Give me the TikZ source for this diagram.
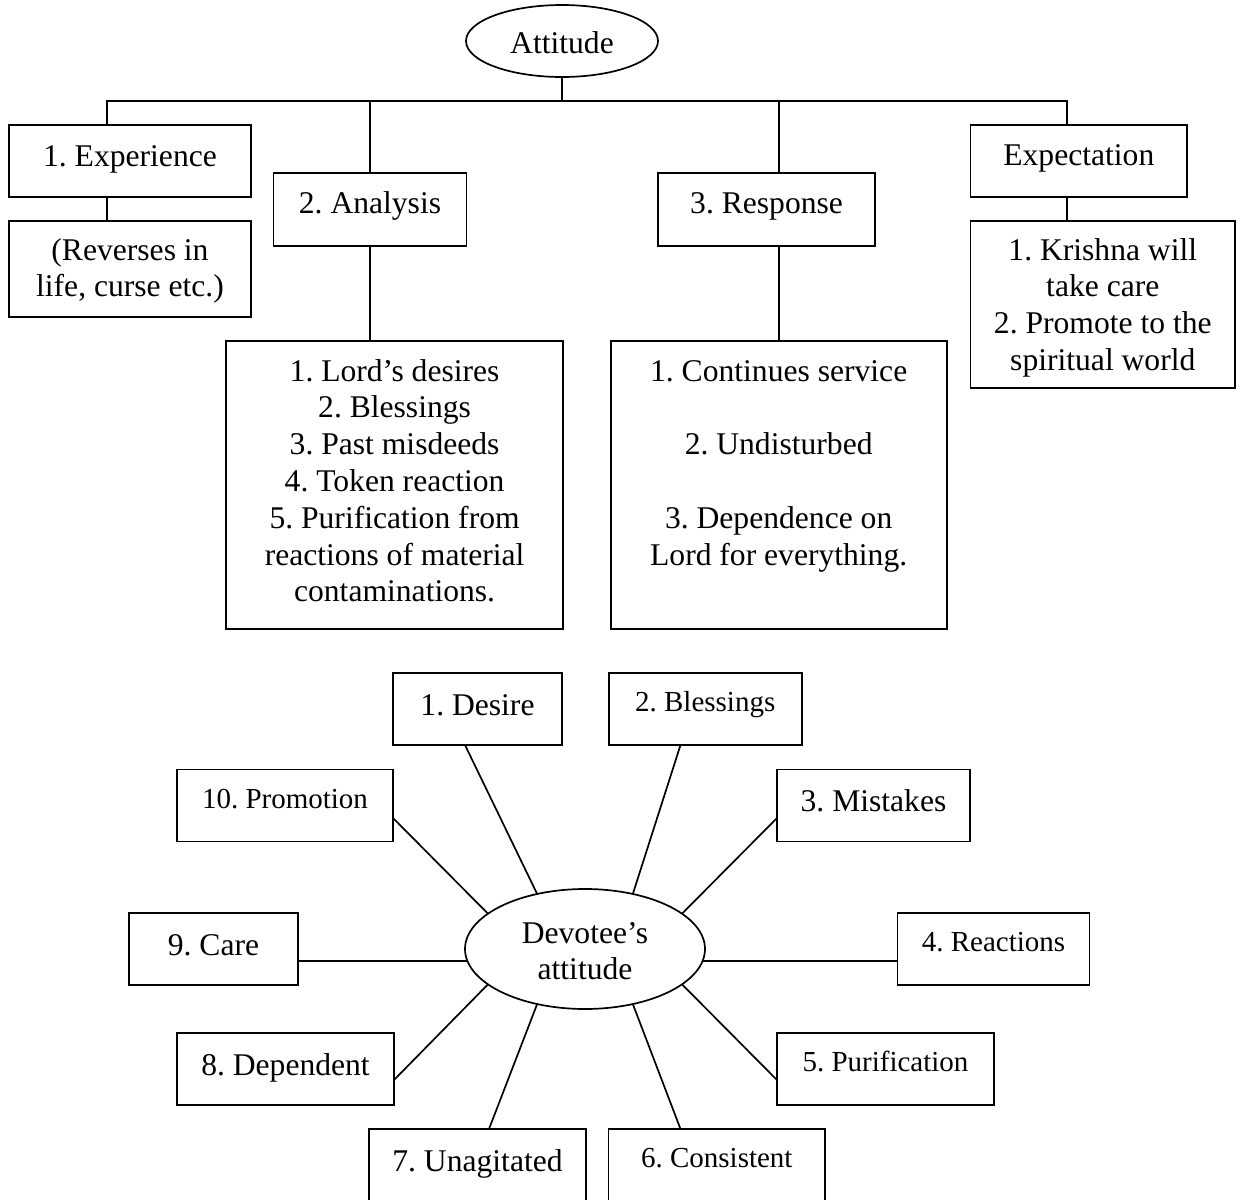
\documentclass[tikz,border=0pt]{standalone}
\usepackage{fontspec}
\setmainfont{Liberation Serif}
\usetikzlibrary{shapes.geometric,calc}
\setlength{\tabcolsep}{0pt}
\frenchspacing
\newcommand{\txtbig}{\fontsize{15.8pt}{18.4pt}\selectfont}
\newcommand{\txtsmall}{\fontsize{14.5pt}{17pt}\selectfont}
\newcommand{\lines}[1]{\begin{tabular}[t]{c}#1\end{tabular}}

\begin{document}
\begin{tikzpicture}[x=0.5pt,y=-0.5pt,
  box/.style={draw, line width=0.85pt, inner sep=0pt, outer sep=0pt, font=\txtbig,
              text height=21pt, text depth=15pt, minimum height=36pt},
  smallbox/.style={box, font=\txtsmall, text height=19.3pt, text depth=16.7pt},
  oval/.style={ellipse, draw, line width=0.85pt, inner sep=0pt, outer sep=0pt, font=\txtbig},
  link/.style={line width=0.85pt}]
\useasboundingbox (0,0) rectangle (1244,1200);

% ---------- upper tree ----------
\node[oval, minimum width=96pt, minimum height=36pt, text height=16pt, text depth=3.7pt]
  (att) at (562,41) {Attitude};

\node[box, minimum width=121pt, text height=20.85pt, text depth=15.15pt]
  (exp) at (130,161) {1. Experience};
\node[box, minimum width=121pt, minimum height=48pt, text height=19.5pt, text depth=28.5pt]
  (rev) at (130,269) {\lines{(Reverses in\\life, curse etc.)}};

\node[box, minimum width=96.5pt, minimum height=36.35pt, text height=20.15pt, text depth=16.2pt]
  (ana) at (370,209.35) {2. Analysis};
\node[box, minimum width=168.6pt, minimum height=144.15pt, text height=20pt, text depth=124.15pt]
  (anal) at (394.6,485.15)
  {\lines{1. Lord’s desires\\2. Blessings\\3. Past misdeeds\\4. Token reaction\\5. Purification from\\reactions of material\\contaminations.}};

\node[box, minimum width=108.3pt, minimum height=36.35pt, text height=20.15pt, text depth=16.2pt]
  (resp) at (766.6,209.35) {3. Response};
\node[box, minimum width=168pt, minimum height=144.15pt, text height=20pt, text depth=124.15pt]
  (respl) at (778.7,485.15)
  {\lines{1. Continues service\\ \\2. Undisturbed\\ \\3. Dependence on\\Lord for everything.}};

\node[box, minimum width=108.2pt, text height=20pt, text depth=16pt]
  (expt) at (1078.8,161) {Expectation};
\node[box, minimum width=132.2pt, minimum height=83.5pt, text height=19.5pt, text depth=64pt]
  (exptl) at (1102.8,304.5)
  {\lines{1. Krishna will\\take care\\2. Promote to the\\spiritual world}};

% junctions on the horizontal bar
\coordinate (hl) at (107,100.7);
\coordinate (hr) at (1066.7,100.7);
\coordinate (hm) at (779,100.7);

\draw[link] (exp.north -| hl) -- (hl) -- (hr) -- (expt.north -| hr);
\draw[link] (att.south) -- (att.south |- hl);
\draw[link] (ana.north |- hl) -- (ana.north);
\draw[link] (hm) -- (resp.north -| hm);
\draw[link] (exp.south -| hl) -- (rev.north -| hl);
\draw[link] (ana.south) -- (ana.south |- anal.north);
\draw[link] (resp.south -| hm) -- (respl.north -| hm);
\draw[link] (expt.south -| hr) -- (exptl.north -| hr);

% ---------- devotee's attitude wheel ----------
\node[oval, minimum width=120pt, minimum height=60pt, text height=13pt, text depth=19pt]
  (dev) at (585,949) {\lines{Devotee’s\\attitude}};

\node[box, minimum width=84.5pt] (desire) at (477.5,709) {1. Desire};
\node[smallbox, minimum width=96.5pt] (bless) at (705.2,709) {2. Blessings};
\node[box, minimum width=96.5pt] (mist) at (873.5,805.5) {3. Mistakes};
\node[smallbox, minimum width=96pt] (react) at (993.5,949) {4. Reactions};
\node[smallbox, minimum width=108.5pt] (purif) at (885.5,1069) {5. Purification};
\node[smallbox, minimum width=108.2pt, minimum height=40pt, text depth=20.7pt]
  (consis) at (716.8,1169) {6. Consistent};
\node[box, minimum width=108.5pt, minimum height=40pt, text depth=19pt]
  (unag) at (477.5,1169) {7. Unagitated};
\node[box, minimum width=108.5pt] (dep) at (285.5,1069) {8. Dependent};
\node[box, minimum width=84.5pt] (care) at (213.5,949) {9. Care};
\node[smallbox, minimum width=108pt] (prom) at (285,805.5) {10. Promotion};

\draw[link] ($(desire.south)+(-12.5,0)$) -- (dev.131);
\draw[link] ($(bless.south)+(-24.7,0)$) -- (dev.49);
\draw[link] ($(mist.west)+(0,12.5)$) -- (dev.20);
\draw[link] ($(react.west)+(0,12)$) coordinate (r4) -- (dev.-5.8 |- r4);
\draw[link] ($(purif.west)+(0,11)$) -- (dev.-20);
\draw[link] ($(consis.north)+(-36.3,0)$) -- (dev.-49);
\draw[link] ($(unag.north)+(11.5,0)$) -- (dev.229);
\draw[link] ($(dep.east)+(0,11)$) -- (dev.200);
\draw[link] ($(care.east)+(0,12)$) coordinate (r9) -- (dev.185.8 |- r9);
\draw[link] ($(prom.east)+(0,12.5)$) -- (dev.160);
\end{tikzpicture}
\end{document}
